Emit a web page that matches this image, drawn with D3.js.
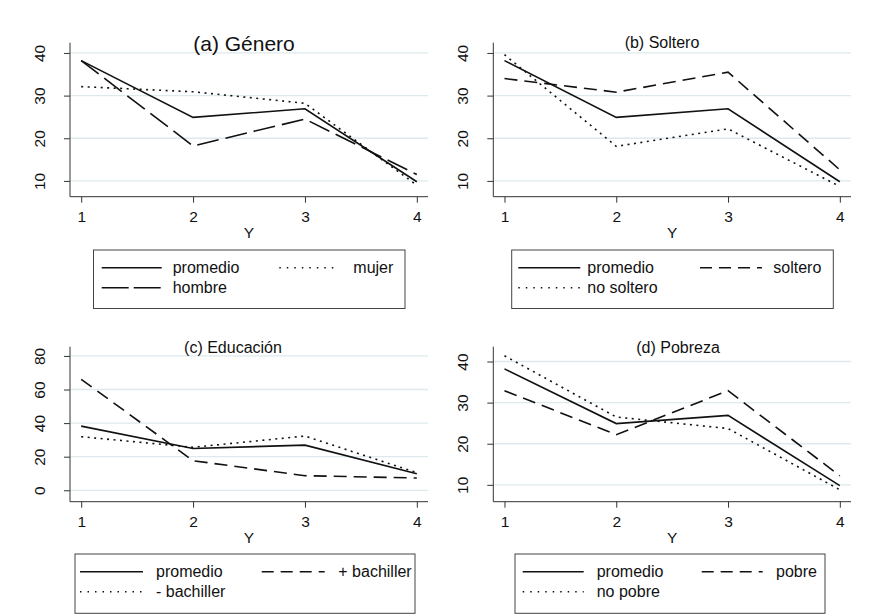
<!DOCTYPE html>
<meta charset="utf-8">
<script src="https://d3js.org/d3.v7.min.js"></script>
<style>
  body { margin: 0; background: #fff; }
  text { font-family: Arial, "Liberation Sans", sans-serif; fill: #111; }
</style>
<div id="my_dataviz"></div>
<script>

// data
var xCats = [1, 2, 3, 4];
var promedio = [38.2, 24.9, 26.9, 9.8];
var mujer = [32.1, 30.9, 28.2, 9.0];
var hombre = [38.2, 18.2, 24.5, 11.5];
var soltero = [34.0, 30.8, 35.5, 12.6];
var noSoltero = [39.6, 18.1, 22.2, 8.7];
var masBachiller = [66.1, 17.6, 8.7, 7.3];
var menosBachiller = [31.9, 25.6, 32.3, 10.5];
var pobre = [32.9, 22.2, 32.9, 12.2];
var noPobre = [41.4, 26.5, 23.7, 8.8];
var ticksA = [10, 20, 30, 40];
var ticksC = [0, 20, 40, 60, 80];

// line styles: [in plot, in legend]
var SOLID = [null, null], DOT = ["2,4.5", "1.5,6"], LONGDASH = ["22,7", "27,5"], DASH = ["13,7", "12,7"];

var svg = d3.select("#my_dataviz")
  .append("svg")
    .attr("width", 870)
    .attr("height", 615);

// one entry per panel: layout + which series go where
var panels = [
  { title: "(a) Género", tSize: 21, tx: 244, ty: 51,
    x0: 70, x1: 428, top: 42.7, bottom: 196.7, yDom: [6.3, 42.4], ticks: ticksA,
    series: [
      {name: "promedio", v: promedio, dash: SOLID, col: 0, row: 0},
      {name: "mujer", v: mujer, dash: DOT, col: 1, row: 0},
      {name: "hombre", v: hombre, dash: LONGDASH, col: 0, row: 1}],
    leg: {x0: 93.5, x1: 405, y0: 250, y1: 308.5, s0: 101.7, s1: 279.3, sl: 60, t0: 172.7, t1: 353.3, r0: 267.7}
  },
  { title: "(b) Soltero", tSize: 16, tx: 662, ty: 48,
    x0: 493.3, x1: 851, top: 42.7, bottom: 196.7, yDom: [6.3, 42.4], ticks: ticksA,
    series: [
      {name: "promedio", v: promedio, dash: SOLID, col: 0, row: 0},
      {name: "soltero", v: soltero, dash: DASH, col: 1, row: 0},
      {name: "no soltero", v: noSoltero, dash: DOT, col: 0, row: 1}],
    leg: {x0: 511.7, x1: 833.3, y0: 250, y1: 308.5, s0: 518.3, s1: 700, sl: 62, t0: 587.3, t1: 773.3, r0: 267.7}
  },
  { title: "(c) Educación", tSize: 16, tx: 233, ty: 353,
    x0: 70, x1: 428, top: 346.7, bottom: 501.7, yDom: [-6.8, 85.5], ticks: ticksC,
    series: [
      {name: "promedio", v: promedio, dash: SOLID, col: 0, row: 0},
      {name: "+ bachiller", v: masBachiller, dash: DASH, col: 1, row: 0},
      {name: "- bachiller", v: menosBachiller, dash: DOT, col: 0, row: 1}],
    leg: {x0: 75, x1: 415, y0: 554, y1: 613.3, s0: 80, s1: 261.7, sl: 63, t0: 156, t1: 338.3, r0: 571.7}
  },
  { title: "(d) Pobreza", tSize: 16, tx: 678, ty: 353,
    x0: 493.3, x1: 851, top: 346.7, bottom: 501.7, yDom: [5.9, 43.6], ticks: ticksA,
    series: [
      {name: "promedio", v: promedio, dash: SOLID, col: 0, row: 0},
      {name: "pobre", v: pobre, dash: DASH, col: 1, row: 0},
      {name: "no pobre", v: noPobre, dash: DOT, col: 0, row: 1}],
    leg: {x0: 515, x1: 825, y0: 554, y1: 613.3, s0: 522.7, s1: 701.7, sl: 61, t0: 596.7, t1: 776, r0: 571.7}
  }
];

panels.forEach(function(p) {
  var g = svg.append("g");

  var x = d3.scaleLinear().domain([0.9, 4.1]).range([p.x0, p.x1]);
  var y = d3.scaleLinear().domain(p.yDom).range([p.bottom, p.top]);

  // grid lines
  g.selectAll(".grid")
    .data(p.ticks)
    .enter().append("line")
      .attr("x1", p.x0 + 1).attr("x2", p.x1)
      .attr("y1", function(d) { return y(d); })
      .attr("y2", function(d) { return y(d); })
      .attr("stroke", "#dde9ec")
      .attr("stroke-width", 1.3);

  // title
  g.append("text")
    .attr("x", p.tx).attr("y", p.ty)
    .attr("text-anchor", "middle")
    .style("font-size", p.tSize + "px")
    .text(p.title);

  // Y axis
  var yAxis = g.append("g")
    .attr("transform", "translate(" + p.x0 + ",0)")
    .call(d3.axisLeft(y).tickValues(p.ticks).tickSize(6).tickSizeOuter(0));
  yAxis.select(".domain").remove();
  yAxis.append("line")
    .attr("y1", p.top).attr("y2", p.bottom)
    .attr("stroke", "#333");
  yAxis.selectAll(".tick line").attr("stroke", "#333");
  yAxis.selectAll(".tick text")
    .attr("x", 0).attr("y", 0).attr("dy", null)
    .attr("transform", "translate(-25,0) rotate(-90)")
    .attr("text-anchor", "middle")
    .style("font-size", "15.5px")
    .style("font-family", "Arial, 'Liberation Sans', sans-serif")
    .attr("fill", "#111");

  // X axis
  var xAxis = g.append("g")
    .attr("transform", "translate(0," + p.bottom + ")")
    .call(d3.axisBottom(x).tickValues(xCats).tickFormat(d3.format("d")).tickSize(6).tickSizeOuter(0));
  xAxis.select(".domain").remove();
  xAxis.append("line")
    .attr("x1", p.x0).attr("x2", p.x1)
    .attr("stroke", "#333");
  xAxis.selectAll(".tick line").attr("stroke", "#333");
  xAxis.selectAll(".tick text")
    .attr("y", 25.5).attr("dy", null)
    .style("font-size", "15.5px")
    .style("font-family", "Arial, 'Liberation Sans', sans-serif")
    .attr("fill", "#111");

  g.append("text")
    .attr("x", (p.x0 + p.x1) / 2)
    .attr("y", p.bottom + 41)
    .attr("text-anchor", "middle")
    .style("font-size", "15.5px")
    .text("Y");

  // lines
  var line = d3.line()
    .x(function(d, i) { return x(xCats[i]); })
    .y(function(d) { return y(d); });

  p.series.slice().reverse().forEach(function(s) {
    g.append("path")
      .datum(s.v)
      .attr("d", line)
      .attr("fill", "none")
      .attr("stroke", "#111")
      .attr("stroke-width", 1.6)
      .attr("stroke-dasharray", s.dash[0]);
  });

  // legend
  var L = p.leg;
  g.append("rect")
    .attr("x", L.x0).attr("y", L.y0)
    .attr("width", L.x1 - L.x0).attr("height", L.y1 - L.y0)
    .attr("fill", "#fff")
    .attr("stroke", "#444");

  p.series.forEach(function(s) {
    var sx = s.col === 0 ? L.s0 : L.s1;
    var tx = s.col === 0 ? L.t0 : L.t1;
    var ry = L.r0 + s.row * 20;
    g.append("line")
      .attr("x1", sx).attr("x2", sx + L.sl)
      .attr("y1", ry).attr("y2", ry)
      .attr("stroke", "#111")
      .attr("stroke-width", 1.5)
      .attr("stroke-dasharray", s.dash[1]);
    g.append("text")
      .attr("x", tx).attr("y", ry + 5.5)
      .style("font-size", "16px")
      .text(s.name);
  });
});

</script>
